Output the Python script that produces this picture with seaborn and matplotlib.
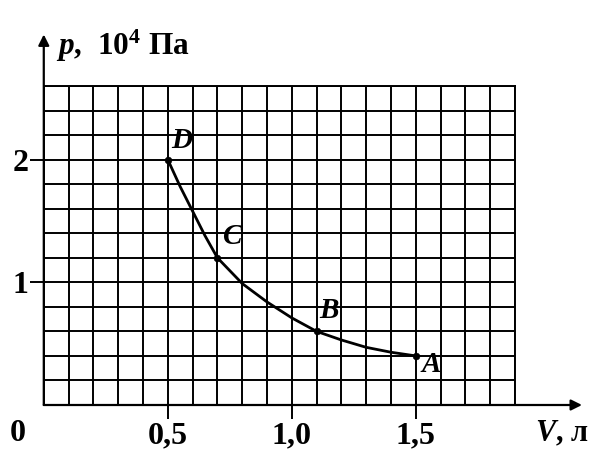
import matplotlib
matplotlib.use("Agg")
import matplotlib.pyplot as plt
from matplotlib.ticker import MultipleLocator
import seaborn as sns
import pandas as pd

# curve p(V)
V_curve = [0.5, 0.55, 0.6, 0.65, 0.7, 0.8, 0.9, 1.0, 1.1, 1.2, 1.3, 1.4, 1.5]
p_curve = [2.0, 1.78, 1.58, 1.38, 1.2, 0.99, 0.84, 0.71, 0.6, 0.53, 0.47, 0.43, 0.4]

# labelled states
point_names = ["D", "C", "B", "A"]
V_points = [0.5, 0.7, 1.1, 1.5]
p_points = [2.0, 1.2, 0.6, 0.4]

x_ticks = [0.5, 1.0, 1.5]
x_ticklabels = ["0,5", "1,0", "1,5"]
y_ticks = [1, 2]
y_ticklabels = ["1", "2"]

sns.set_style("white")
plt.rcParams["font.family"] = ["Liberation Serif", "DejaVu Serif"]
plt.rcParams["font.weight"] = "bold"
plt.rcParams["text.color"] = "black"
plt.rcParams["mathtext.fontset"] = "custom"
plt.rcParams["mathtext.rm"] = "Liberation Serif:bold"
plt.rcParams["mathtext.bf"] = "Liberation Serif:bold"
plt.rcParams["mathtext.it"] = "Liberation Serif:italic:bold"

fig = plt.figure(figsize=(5.94, 4.5), dpi=100)
ax = fig.add_axes([0.0737, 0.1, 0.7933, 0.7089])

curve = pd.DataFrame({"V": V_curve, "p": p_curve})
pts = pd.DataFrame({"V": V_points, "p": p_points, "name": point_names})

sns.lineplot(data=curve, x="V", y="p", ax=ax, color="black", linewidth=2.0,
             sort=False, zorder=4)
sns.scatterplot(data=pts, x="V", y="p", ax=ax, color="black", s=24,
                edgecolor="black", zorder=5)

offsets = {"D": (10, 14), "C": (11, 15), "B": (9, 15), "A": (11, -6)}
for _, r in pts.iterrows():
    ax.annotate(r["name"], (r["V"], r["p"]), xytext=offsets[r["name"]],
                textcoords="offset points", ha="center", va="center",
                fontsize=21, fontweight="bold", fontstyle="italic",
                color="black", zorder=6)

ax.set_xlim(0, 1.9)
ax.set_ylim(0, 2.6)
ax.xaxis.set_minor_locator(MultipleLocator(0.1))
ax.yaxis.set_minor_locator(MultipleLocator(0.2))
ax.set_xticks(x_ticks)
ax.set_xticklabels(x_ticklabels)
ax.set_yticks(y_ticks)
ax.set_yticklabels(y_ticklabels)
ax.grid(which="both", color="black", linewidth=1.4)
ax.set_axisbelow(True)

ax.tick_params(axis="both", which="major", direction="out", length=10,
               width=1.4, color="black", labelcolor="black", labelsize=23,
               bottom=True, left=True)
ax.tick_params(axis="x", which="major", pad=2)
ax.tick_params(axis="y", which="major", pad=1)
ax.tick_params(which="minor", length=0)
for lab in ax.get_xticklabels() + ax.get_yticklabels():
    lab.set_fontweight("bold")

for s in ax.spines.values():
    s.set_color("black")
    s.set_linewidth(1.4)
ax.set_xlabel("")
ax.set_ylabel("")

# axis arrows
arrow = dict(arrowstyle="-|>", color="black", lw=1.6, mutation_scale=16,
             shrinkA=0, shrinkB=0)
ax.annotate("", xy=(0, 3.02), xytext=(0, 0), arrowprops=arrow,
            annotation_clip=False)
ax.annotate("", xy=(2.17, 0), xytext=(0, 0), arrowprops=arrow,
            annotation_clip=False)

ax.text(-0.104, -0.235, "0", ha="center", va="center", fontsize=23,
        fontweight="bold", clip_on=False)
ax.text(0.05, 2.93, "$p$,  10$^4$ Па", ha="left", va="center",
        fontsize=22.5, fontweight="bold", clip_on=False)
ax.text(2.09, -0.235, "$V$, л", ha="center", va="center", fontsize=22,
        fontweight="bold", clip_on=False)

fig.savefig("out.png", dpi=100)
